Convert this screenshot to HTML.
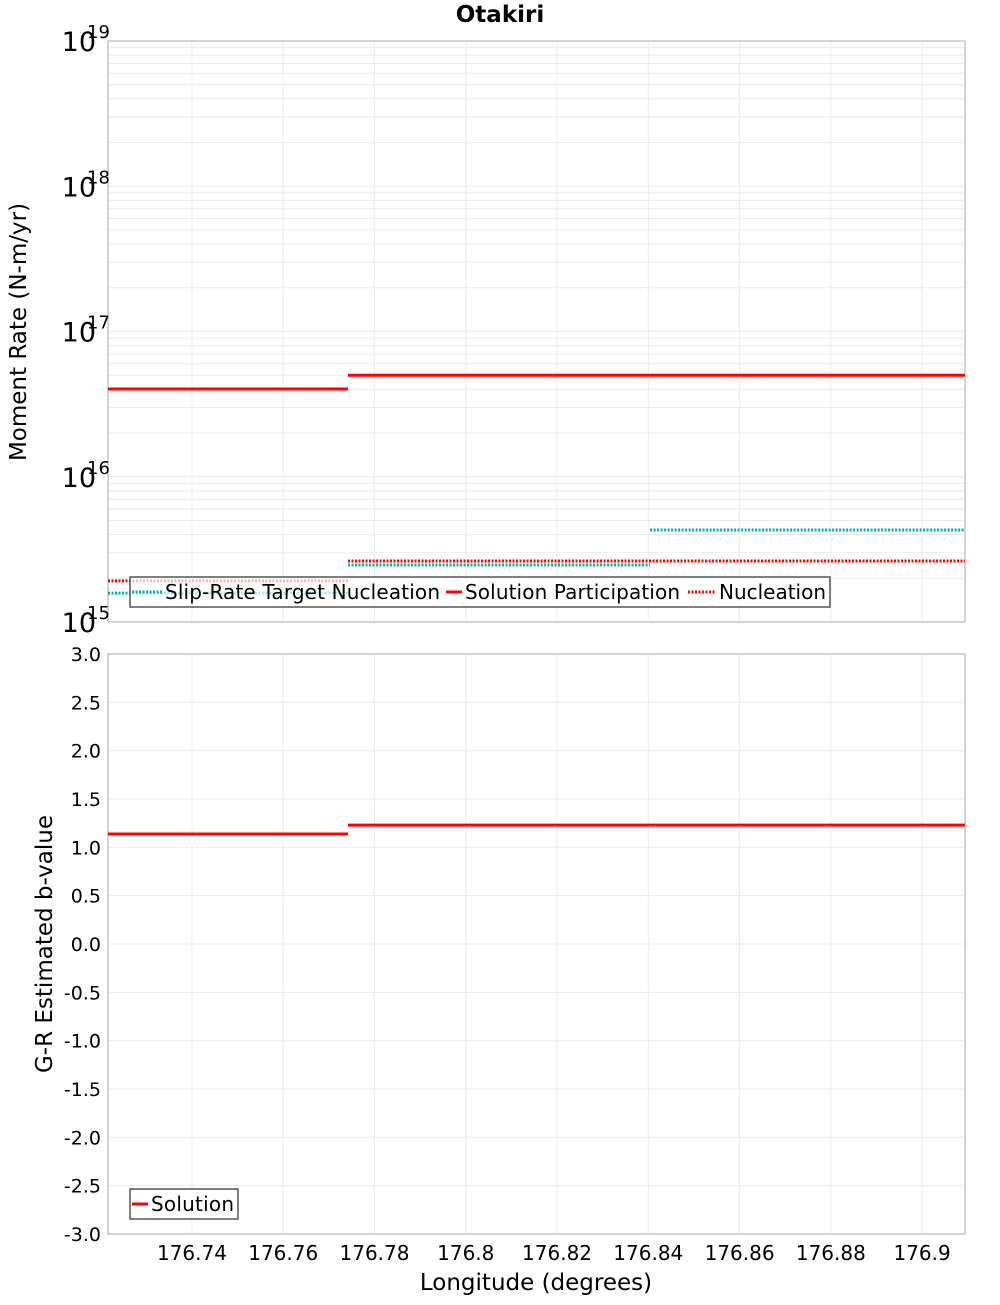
<!DOCTYPE html>
<html><head><meta charset="utf-8"><style>
body{margin:0;background:#fff;}
svg text{font-family:"DejaVu Sans","Liberation Sans",sans-serif;}
</style></head><body>
<svg id="c" width="1000" height="1300" xmlns="http://www.w3.org/2000/svg"></svg>
<script>
const xTicks=[176.74,176.76,176.78,176.8,176.82,176.84,176.86,176.88,176.9];
const xTickLabels=["176.74","176.76","176.78","176.8","176.82","176.84","176.86","176.88","176.9"];
const yTopDecades=[15,16,17,18,19];
const yBotTicks=[-3,-2.5,-2,-1.5,-1,-0.5,0,0.5,1,1.5,2,2.5,3];
const solPartX=[[176.7216,176.7742],[176.7742,176.9094]];
const solPartY=[4.02e16,5.0e16];
const nuclX=[[176.7216,176.7742],[176.7742,176.9094]];
const nuclY=[1.92e15,2.63e15];
const targetX=[[176.7216,176.7742],[176.7742,176.8404],[176.8404,176.9094]];
const targetY=[1.58e15,2.47e15,4.3e15];
const bX=[[176.7216,176.7742],[176.7742,176.9094]];
const bY=[1.138,1.23];

const NS="http://www.w3.org/2000/svg";
const svg=document.getElementById('c');
const L=108,R=965,T1=41,B1=622,T2=654,B2=1234;
const xs=v=>L+(v-176.7216)/(176.9094-176.7216)*(R-L);
const ys1=v=>B1-(Math.log10(v)-15)/4*(B1-T1);
const ys2=v=>B2-(v+3)/6*(B2-T2);
function el(tag,a,name,parent){const e=document.createElementNS(NS,tag);for(const k in a)e.setAttribute(k,a[k]);


(parent||svg).appendChild(e);return e;}
function txt(x,y,s,size,name,anchor,extra){const t=el('text',Object.assign({x:x,y:y,'font-size':size,'text-anchor':anchor||'middle',fill:'#000'},extra||{}),name);t.textContent=s;return t;}

txt(500,22,"Otakiri",23,'chart-title','middle',{'font-weight':'bold'});
el('rect',{x:L,y:T1,width:R-L,height:B1-T1,fill:'#fff'},'top-plot-area');
for(let d=15;d<19;d++){for(let m=1;m<10;m++){const y=ys1(m*Math.pow(10,d));el('line',{x1:L,x2:R,y1:y,y2:y,stroke:'#ebebeb','stroke-width':1},'top-grid-line');}}
xTicks.forEach(v=>{el('line',{x1:xs(v),x2:xs(v),y1:T1,y2:B1,stroke:'#ebebeb'},'top-vgrid-line');});
el('rect',{x:L,y:T1,width:R-L,height:B1-T1,fill:'none',stroke:'#aaa'},'top-plot-frame');
yTopDecades.forEach(d=>{const y=ys1(Math.pow(10,d));txt(96,y+10,"10",27,'y-tick-label','end');txt(87,y-3,String(d),18,'y-tick-exponent','start');});
txt(26,332,"Moment Rate (N-m/yr)",23,'y-axis-title-top','middle',{transform:'rotate(-90 26 332)'});
targetX.forEach((s,i)=>el('line',{x1:xs(s[0]),x2:xs(s[1]),y1:ys1(targetY[i]),y2:ys1(targetY[i]),stroke:'#00b0b0','stroke-width':3,'stroke-dasharray':'2 1.5'},'slip-rate-target-segment'));
nuclX.forEach((s,i)=>el('line',{x1:xs(s[0]),x2:xs(s[1]),y1:ys1(nuclY[i]),y2:ys1(nuclY[i]),stroke:'#f00','stroke-width':3,'stroke-dasharray':'2 1.5'},'nucleation-segment'));
solPartX.forEach((s,i)=>el('line',{x1:xs(s[0]),x2:xs(s[1]),y1:ys1(solPartY[i]),y2:ys1(solPartY[i]),stroke:'#f00','stroke-width':3},'solution-participation-segment'));
el('rect',{x:130,y:577,width:700,height:30,fill:'#fff','fill-opacity':0.7,stroke:'#555','stroke-width':1.5},'top-legend');
el('line',{x1:132,x2:162,y1:592,y2:592,stroke:'#00b0b0','stroke-width':3,'stroke-dasharray':'2 1.5'},'legend-swatch-target');
txt(165,599,"Slip-Rate Target Nucleation",20,'legend-entry-target','start',{textLength:275});
el('line',{x1:446,x2:462,y1:592,y2:592,stroke:'#f00','stroke-width':3},'legend-swatch-participation');
txt(465,599,"Solution Participation",20,'legend-entry-participation','start',{textLength:215});
el('line',{x1:688,x2:716,y1:592,y2:592,stroke:'#f00','stroke-width':3,'stroke-dasharray':'2 1.5'},'legend-swatch-nucleation');
txt(719,599,"Nucleation",20,'legend-entry-nucleation','start',{textLength:107});

el('rect',{x:L,y:T2,width:R-L,height:B2-T2,fill:'#fff'},'bottom-plot-area');
yBotTicks.forEach(v=>{el('line',{x1:L,x2:R,y1:ys2(v),y2:ys2(v),stroke:'#ebebeb'},'bottom-hgrid-line');txt(101,ys2(v)+7,v.toFixed(1),19,'y-tick-label-bottom','end');});
xTicks.forEach((v,i)=>{el('line',{x1:xs(v),x2:xs(v),y1:T2,y2:B2,stroke:'#ebebeb'},'bottom-vgrid-line');txt(xs(v),1260,xTickLabels[i],20,'x-tick-label','middle');});
el('rect',{x:L,y:T2,width:R-L,height:B2-T2,fill:'none',stroke:'#aaa'},'bottom-plot-frame');
bX.forEach((s,i)=>el('line',{x1:xs(s[0]),x2:xs(s[1]),y1:ys2(bY[i]),y2:ys2(bY[i]),stroke:'#f00','stroke-width':3},'b-value-segment'));
txt(52,944,"G-R Estimated b-value",23,'y-axis-title-bottom','middle',{transform:'rotate(-90 52 944)'});
txt(536,1290,"Longitude (degrees)",23,'x-axis-title','middle');
el('rect',{x:130,y:1189,width:108,height:30,fill:'#fff','fill-opacity':0.7,stroke:'#555','stroke-width':1.5},'bottom-legend');
el('line',{x1:132,x2:148,y1:1204,y2:1204,stroke:'#f00','stroke-width':3},'legend-swatch-solution');
txt(151,1211,"Solution",20,'legend-entry-solution','start',{textLength:83});
</script>
</body></html>
